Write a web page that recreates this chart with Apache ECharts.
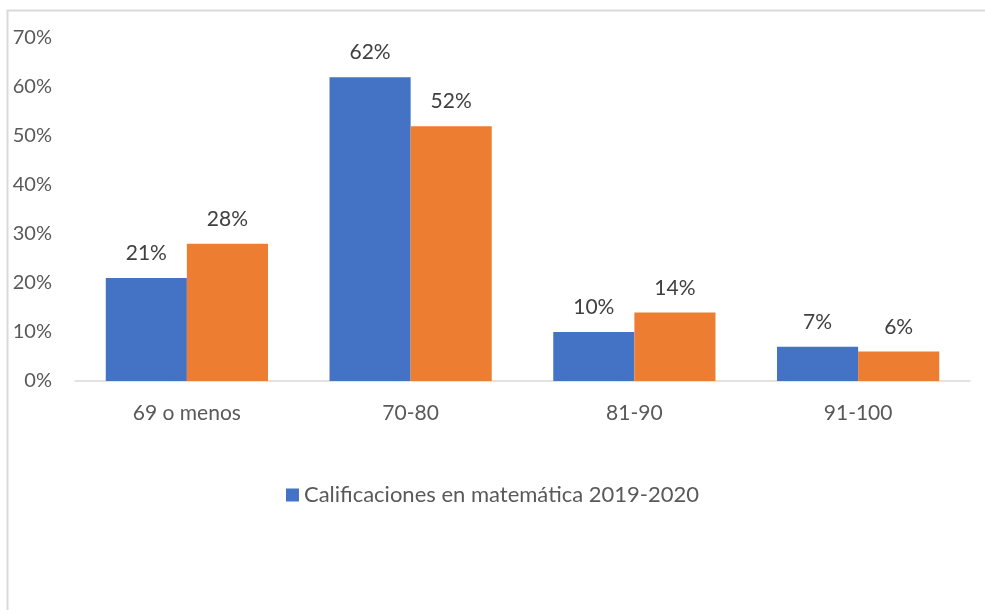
<!DOCTYPE html>
<html>
<head>
<meta charset="utf-8">
<script src="https://cdn.jsdelivr.net/npm/echarts@6/dist/echarts.min.js"></script>
<style>
  html, body { margin: 0; padding: 0; background: #fff; }
  #myecharts { width: 985px; height: 610px; }
</style>
</head>
<body>
<div id="myecharts"></div>
<script>
// datos
var categorias = ['69 o menos', '70-80', '81-90', '91-100'];
var serieAzul = [21, 62, 10, 7];
var serieNaranja = [28, 52, 14, 6];
var nombreAzul = 'Calificaciones en matemática 2019-2020';
var ticksY = [0, 10, 20, 30, 40, 50, 60, 70];

var fuente = 'Lato, "Open Sans", sans-serif';

var hh = document.getElementById('myecharts');
var echart = echarts.init(hh);

var etiqueta = {
    show: true,
    position: 'top',
    distance: 14,
    color: '#404040',
    fontSize: 21,
    fontFamily: fuente,
    formatter: '{c}%'
};

echart.setOption({
    animation: false,
    backgroundColor: '#fff',
    graphic: [{
        type: 'rect',
        shape: { x: 7.5, y: 10.5, width: 1000, height: 700 },
        style: { fill: 'none', stroke: '#d9d9d9', lineWidth: 2 },
        silent: true
    }],
    grid: { left: 75, right: 15, top: 38, bottom: 229 },
    legend: {
        data: [nombreAzul],
        top: 479,
        left: 'center',
        itemWidth: 13,
        itemHeight: 13,
        itemGap: 5,
        icon: 'rect',
        textStyle: { color: '#595959', fontSize: 22, fontFamily: fuente }
    },
    xAxis: {
        type: 'category',
        data: categorias,
        axisLine: { lineStyle: { color: '#d9d9d9', width: 1.5 } },
        axisTick: { show: false },
        axisLabel: { color: '#595959', fontSize: 21, fontFamily: fuente, margin: 22 }
    },
    yAxis: {
        type: 'value',
        min: ticksY[0],
        max: ticksY[ticksY.length - 1],
        interval: 10,
        splitLine: { show: false },
        axisLine: { show: false },
        axisTick: { show: false },
        axisLabel: {
            color: '#595959', fontSize: 20, fontFamily: fuente,
            margin: 23, formatter: '{value}%'
        }
    },
    series: [{
        name: nombreAzul,
        type: 'bar',
        data: serieAzul,
        barGap: '0%',
        barCategoryGap: '27.5%',
        itemStyle: { color: '#4472c4' },
        label: etiqueta
    }, {
        name: 'Serie 2',
        type: 'bar',
        data: serieNaranja,
        itemStyle: { color: '#ed7d31' },
        label: etiqueta
    }]
});

window.addEventListener('resize', function() {
    if (echart) {
        echart.resize();
    }
});
</script>
</body>
</html>
